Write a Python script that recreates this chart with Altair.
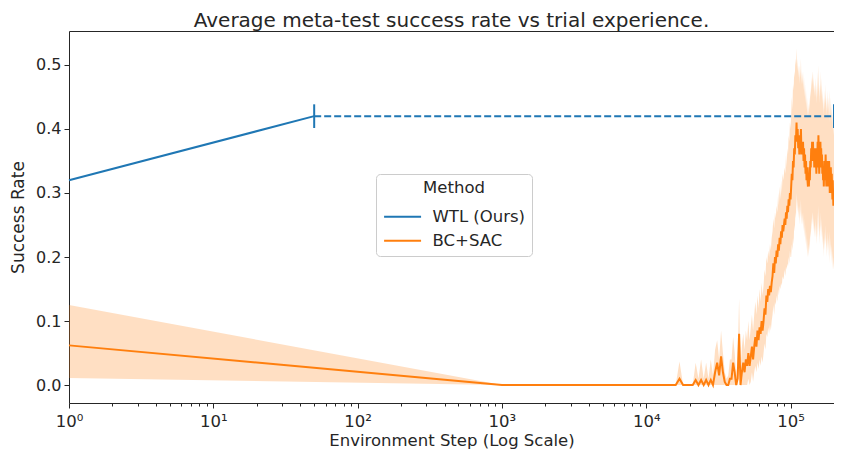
import altair as alt
import pandas as pd

TITLE = "Average meta-test success rate vs trial experience."
X_TITLE = "Environment Step (Log Scale)"
Y_TITLE = "Success Rate"
LEGEND_TITLE = "Method"
methods = ["WTL (Ours)", "BC+SAC"]
palette = ["#1f77b4", "#ff7f0e"]

# WTL (Ours): solid segment, then dashed extension with end markers
wtl_x = [1, 50]
wtl_y = [0.32, 0.42]
wtl_ext_x = [50, 200000]
wtl_ext_y = [0.42, 0.42]

# BC+SAC: first point at step 1, then every 1000 steps up to 200k
bc_steps = [1] + list(range(1000, 200001, 1000))
bc_mean = [0.062,
    0, 0, 0, 0, 0, 0, 0, 0, 0, 0,
    0, 0, 0, 0, 0, 0, 0.01, 0, 0, 0,
    0, 0.008, 0, 0.008, 0, 0.008, 0, 0.008, 0, 0.02,
    0.035, 0.015, 0.045, 0.02, 0.005, 0, 0, 0.01, 0.01, 0.035,
    0.02, 0.0, 0.01, 0.08, 0.0, 0.02, 0.035, 0.02, 0.04, 0.03,
    0.05, 0.03, 0.045, 0.06, 0.04, 0.06, 0.075, 0.06, 0.085, 0.07,
    0.09, 0.08, 0.1, 0.085, 0.1, 0.12, 0.11, 0.14, 0.13, 0.15,
    0.14, 0.155, 0.145, 0.16, 0.17, 0.19, 0.175, 0.2, 0.19, 0.21,
    0.2, 0.22, 0.21, 0.23, 0.22, 0.24, 0.23, 0.25, 0.24, 0.25,
    0.26, 0.25, 0.27, 0.26, 0.28, 0.27, 0.29, 0.28, 0.3, 0.29,
    0.31, 0.33, 0.32, 0.35, 0.34, 0.37, 0.36, 0.39, 0.38, 0.41,
    0.38, 0.4, 0.37, 0.39, 0.36, 0.39, 0.37, 0.4, 0.36, 0.38,
    0.36, 0.38, 0.35, 0.37, 0.34, 0.36, 0.33, 0.35, 0.32, 0.34,
    0.32, 0.31, 0.33, 0.31, 0.34, 0.32, 0.35, 0.34, 0.37, 0.35,
    0.38, 0.36, 0.38, 0.35, 0.37, 0.34, 0.36, 0.34, 0.37, 0.35,
    0.33, 0.36, 0.34, 0.38, 0.35, 0.39, 0.36, 0.33, 0.36, 0.34,
    0.38, 0.35, 0.37, 0.34, 0.36, 0.33, 0.35, 0.32, 0.34, 0.31,
    0.34, 0.32, 0.35, 0.33, 0.36, 0.33, 0.31, 0.34, 0.32, 0.35,
    0.33, 0.31, 0.34, 0.32, 0.35, 0.33, 0.3, 0.33, 0.31, 0.34,
    0.32, 0.3, 0.33, 0.31, 0.29, 0.32, 0.3, 0.28, 0.3, 0.28]
bc_hi = [0.125,
    0, 0, 0, 0, 0, 0, 0, 0, 0, 0,
    0, 0, 0, 0, 0, 0, 0.037, 0, 0, 0,
    0, 0.035, 0.01, 0.04, 0.01, 0.035, 0.01, 0.04, 0.015, 0.055,
    0.07, 0.04, 0.085, 0.05, 0.02, 0.01, 0.015, 0.04, 0.04, 0.075,
    0.05, 0.015, 0.04, 0.135, 0.02, 0.06, 0.08, 0.055, 0.085, 0.07,
    0.1, 0.07, 0.09, 0.11, 0.085, 0.11, 0.13, 0.11, 0.14, 0.12,
    0.15, 0.13, 0.16, 0.14, 0.155, 0.18, 0.17, 0.2, 0.19, 0.21,
    0.2, 0.22, 0.21, 0.23, 0.24, 0.26, 0.245, 0.27, 0.26, 0.28,
    0.27, 0.3, 0.28, 0.31, 0.29, 0.32, 0.3, 0.33, 0.32, 0.33,
    0.34, 0.33, 0.36, 0.34, 0.37, 0.36, 0.39, 0.38, 0.41, 0.4,
    0.42, 0.45, 0.43, 0.47, 0.46, 0.49, 0.48, 0.51, 0.5, 0.526,
    0.49, 0.51, 0.48, 0.5, 0.47, 0.5, 0.48, 0.51, 0.47, 0.49,
    0.47, 0.49, 0.46, 0.48, 0.45, 0.47, 0.44, 0.46, 0.43, 0.45,
    0.43, 0.42, 0.44, 0.42, 0.45, 0.43, 0.46, 0.45, 0.48, 0.46,
    0.49, 0.47, 0.49, 0.46, 0.48, 0.45, 0.47, 0.45, 0.48, 0.46,
    0.44, 0.47, 0.45, 0.49, 0.46, 0.5, 0.47, 0.44, 0.47, 0.45,
    0.49, 0.46, 0.48, 0.45, 0.47, 0.44, 0.46, 0.43, 0.45, 0.42,
    0.45, 0.43, 0.46, 0.44, 0.47, 0.44, 0.42, 0.45, 0.43, 0.46,
    0.44, 0.42, 0.45, 0.43, 0.46, 0.44, 0.41, 0.44, 0.42, 0.45,
    0.43, 0.41, 0.44, 0.42, 0.4, 0.43, 0.41, 0.39, 0.41, 0.39]
bc_lo = [0.011,
    0, 0, 0, 0, 0, 0, 0, 0, 0, 0,
    0, 0, 0, 0, 0, 0, 0, 0, 0, 0,
    0, 0, 0, 0, 0, 0, 0, 0, 0, 0,
    0, 0, 0, 0, 0, 0, 0, 0, 0, 0,
    0, 0, 0, 0.03, 0, 0, 0, 0, 0, 0,
    0.01, 0, 0.005, 0.02, 0.005, 0.02, 0.03, 0.02, 0.035, 0.025,
    0.04, 0.03, 0.045, 0.035, 0.05, 0.065, 0.055, 0.08, 0.075, 0.09,
    0.08, 0.095, 0.085, 0.1, 0.11, 0.125, 0.11, 0.13, 0.125, 0.14,
    0.13, 0.15, 0.14, 0.155, 0.15, 0.16, 0.155, 0.17, 0.165, 0.17,
    0.18, 0.17, 0.185, 0.18, 0.19, 0.185, 0.2, 0.19, 0.21, 0.2,
    0.2, 0.22, 0.21, 0.23, 0.22, 0.25, 0.24, 0.27, 0.26, 0.3,
    0.27, 0.29, 0.26, 0.28, 0.25, 0.28, 0.26, 0.29, 0.25, 0.27,
    0.25, 0.27, 0.24, 0.26, 0.23, 0.25, 0.22, 0.24, 0.21, 0.23,
    0.21, 0.2, 0.22, 0.2, 0.23, 0.21, 0.24, 0.23, 0.26, 0.24,
    0.27, 0.25, 0.27, 0.24, 0.26, 0.23, 0.25, 0.23, 0.26, 0.24,
    0.22, 0.25, 0.23, 0.27, 0.24, 0.28, 0.25, 0.22, 0.25, 0.23,
    0.27, 0.24, 0.26, 0.23, 0.25, 0.22, 0.24, 0.21, 0.23, 0.2,
    0.23, 0.21, 0.24, 0.22, 0.25, 0.22, 0.2, 0.23, 0.21, 0.24,
    0.22, 0.2, 0.23, 0.21, 0.24, 0.22, 0.19, 0.22, 0.2, 0.23,
    0.21, 0.19, 0.22, 0.2, 0.18, 0.21, 0.19, 0.18, 0.2, 0.18]

major_ticks = [1, 10, 100, 1000, 10000, 100000]
minor_ticks = [m * 10 ** d for d in range(0, 5) for m in range(2, 10)] + [200000]
y_ticks = [0.0, 0.1, 0.2, 0.3, 0.4, 0.5]

FONT = "DejaVu Sans"
TXT = "#262626"

wtl_df = pd.DataFrame({"step": wtl_x, "rate": wtl_y, "method": methods[0]})
ext_df = pd.DataFrame({"step": wtl_ext_x, "rate": wtl_ext_y, "method": methods[0]})
bc_df = pd.DataFrame({"step": bc_steps, "rate": bc_mean, "lo": bc_lo, "hi": bc_hi,
                      "method": methods[1]})

xscale = alt.Scale(type="log", domain=[1, 200000], nice=False)
yscale = alt.Scale(domain=[-0.028, 0.553], nice=False, zero=False)
cscale = alt.Scale(domain=methods, range=palette)

label_expr = "'10' + ['\u2070','\u00b9','\u00b2','\u00b3','\u2074','\u2075'][round(log(datum.value)/LN10)]"

x_main = alt.X("step:Q", scale=xscale, title=X_TITLE,
               axis=alt.Axis(values=major_ticks, labelExpr=label_expr, tickSize=5,
                             labelFontSize=16.5, titleFontSize=16.5, labelPadding=5,
                             titlePadding=2.5, grid=False, domain=False, orient="bottom",
                             labelFlush=False, labelOverlap=False))
x_minor = alt.X("step:Q", scale=xscale, title=None,
                axis=alt.Axis(values=minor_ticks, labels=False, tickSize=3, grid=False,
                              domain=False, orient="bottom", title=None))
x_none = alt.X("step:Q", scale=xscale, axis=None)

y_main = alt.Y("lo:Q", scale=yscale, title=Y_TITLE,
               axis=alt.Axis(values=y_ticks, format=".1f", tickSize=5, labelFontSize=16,
                             titleFontSize=17, labelPadding=3, titlePadding=8,
                             grid=False, domain=False))

band = alt.Chart(bc_df).mark_area(color=palette[1], opacity=0.25).encode(
    x=x_main, y=y_main, y2="hi:Q")

legend = alt.Legend(title="\u00a0\u00a0\u00a0" + LEGEND_TITLE)

bc_line = alt.Chart(bc_df).mark_line(strokeWidth=2).encode(
    x=x_none, y=alt.Y("rate:Q", scale=yscale, axis=None),
    color=alt.Color("method:N", scale=cscale, sort=methods, legend=legend))

wtl_line = alt.Chart(wtl_df).mark_line(strokeWidth=2).encode(
    x=x_none, y=alt.Y("rate:Q", scale=yscale, axis=None),
    color=alt.Color("method:N", scale=cscale, sort=methods, legend=legend))

wtl_dash = alt.Chart(ext_df).mark_line(strokeWidth=2, strokeDash=[7, 3], color=palette[0]).encode(
    x=x_minor, y=alt.Y("rate:Q", scale=yscale, axis=None))

wtl_marks = alt.Chart(ext_df).mark_point(shape="M0,-1L0,1", size=560, strokeWidth=2,
                                         filled=False, opacity=1, color=palette[0]).encode(
    x=x_none, y=alt.Y("rate:Q", scale=yscale, axis=None))

chart = alt.layer(band, bc_line, wtl_line, wtl_dash, wtl_marks).resolve_axis(
    x="independent", y="independent"
).properties(
    width=765, height=372,
    autosize=alt.AutoSizeParams(type="none"),
    padding={"left": 61, "top": 23, "right": 0, "bottom": 46},
    title=alt.TitleParams(TITLE, fontSize=20, fontWeight="normal", font=FONT,
                          color=TXT, anchor="middle", offset=0),
).configure(
    font=FONT, background="white"
).configure_view(
    stroke="#262626", strokeWidth=1
).configure_axis(
    labelFont=FONT, titleFont=FONT, labelColor=TXT, titleColor=TXT,
    tickColor="#262626", tickWidth=1, titleFontWeight="normal"
).configure_legend(
    orient="none", legendX=307, legendY=143,
    fillColor="white", strokeColor="#cccccc", cornerRadius=4, padding=6,
    symbolType="M-1,0H5", symbolSize=152, symbolStrokeWidth=2,
    labelFontSize=16.5, titleFontSize=16.5, titleFontWeight="normal",
    labelFont=FONT, titleFont=FONT, labelColor=TXT, titleColor=TXT,
    titleAnchor="middle", titlePadding=12, rowPadding=7, labelOffset=34
)

chart.save("out.html", embed_options={"renderer": "svg", "actions": False})
